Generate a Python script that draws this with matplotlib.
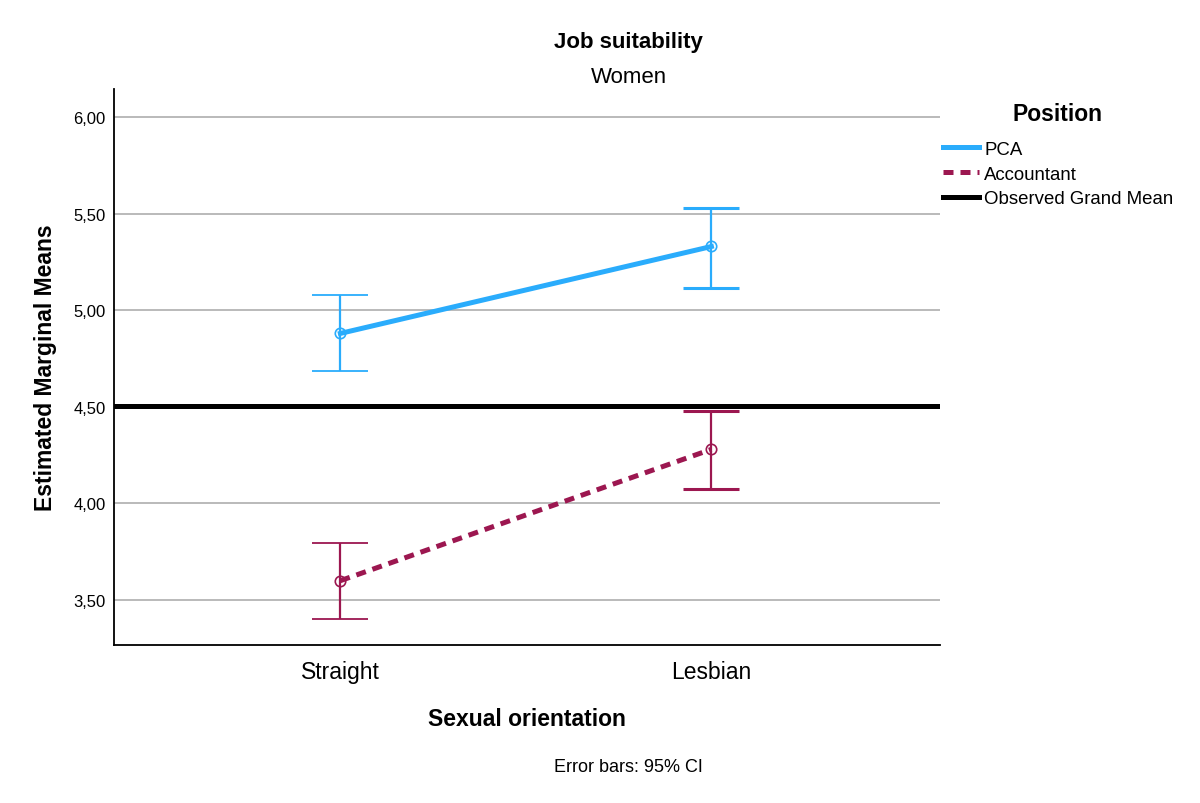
import numpy as np
import matplotlib.pyplot as plt

plt.rcParams['font.family'] = ['Liberation Sans', 'DejaVu Sans']

# Data
orientation = ['Straight', 'Lesbian']
positions = ['PCA', 'Accountant']
means = {'PCA': [4.88, 5.33], 'Accountant': [3.60, 4.28]}
ci_low = {'PCA': [4.685, 5.115], 'Accountant': [3.40, 4.075]}
ci_high = {'PCA': [5.08, 5.53], 'Accountant': [3.795, 4.478]}
grand_mean = 4.505
yticks = [3.5, 4.0, 4.5, 5.0, 5.5, 6.0]

colors = {'PCA': '#2aacfc', 'Accountant': '#9c1750'}
styles = {'PCA': '-', 'Accountant': (0, (2.0, 1.4))}
cap_w = [1.3, 2.2]  # caps are drawn thinner on the first category

fig = plt.figure(figsize=(12, 8.04), dpi=100)
ax = fig.add_axes([0.095, 0.1965, 0.688, 0.6915])

x = np.arange(len(orientation))

for p in positions:
    m = np.array(means[p])
    lo = m - np.array(ci_low[p])
    hi = np.array(ci_high[p]) - m
    for i in range(len(x)):
        ax.errorbar(x[i], m[i], yerr=[[lo[i]], [hi[i]]], fmt='none', ecolor=colors[p],
                    elinewidth=1.6, capsize=20, capthick=cap_w[i], zorder=3)
    ax.plot(x, m, linestyle=styles[p], color=colors[p], lw=3.6,
            marker='o', mfc='none', mec=colors[p], ms=7.5, mew=1.2,
            label=p, zorder=4)

ax.axhline(grand_mean, color='black', lw=3.6, zorder=5, label='Observed Grand Mean')

ax.set_xlim(-0.61, 1.615)
ax.set_ylim(3.267, 6.145)
ax.set_xticks(x)
ax.set_xticklabels(orientation, fontsize=16.5)
ax.set_yticks(yticks)
ax.set_yticklabels([('%.2f' % v).replace('.', ',') for v in yticks], fontsize=12)
ax.tick_params(length=0, pad=6)
ax.tick_params(axis='x', pad=11)
ax.yaxis.grid(True, color='#b4b4b4', lw=1.3)
ax.set_axisbelow(True)
for s in ['top', 'right']:
    ax.spines[s].set_visible(False)
for s in ['left', 'bottom']:
    ax.spines[s].set_linewidth(1.3)

ax.set_ylabel('Estimated Marginal Means', fontsize=16.5, fontweight='bold', labelpad=12)
ax.set_xlabel('Sexual orientation', fontsize=16.5, fontweight='bold', labelpad=17)

fig.text(0.524, 0.947, 'Job suitability', ha='center', va='center', fontsize=16, fontweight='bold')
fig.text(0.524, 0.904, 'Women', ha='center', va='center', fontsize=16)
fig.text(0.524, 0.046, 'Error bars: 95% CI', ha='center', va='center', fontsize=13)

# legend title placed separately to get the wider gap above the entries
fig.text(0.881, 0.858, 'Position', ha='center', va='center', fontsize=16.5, fontweight='bold')
leg = ax.legend(loc='upper left', bbox_to_anchor=(1.0036, 0.907), frameon=False,
                fontsize=13.4, handlelength=1.95,
                handletextpad=0.28, labelspacing=0.42, borderaxespad=0,
                borderpad=0)
for h in leg.get_lines():
    h.set_marker('')

fig.savefig('out.png', dpi=100)
